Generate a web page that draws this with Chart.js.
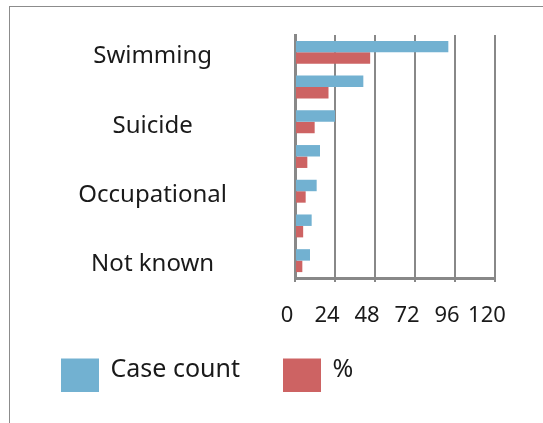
<!DOCTYPE html>
<html><head><meta charset="utf-8">
<script src="https://cdn.jsdelivr.net/npm/chart.js@4"></script>
<style>
html,body{margin:0;padding:0;background:#fff;}
#frame{position:absolute;left:9px;top:6px;width:540px;height:420px;border-top:1px solid #8c8c8c;border-left:1px solid #8c8c8c;}
#wrap{position:absolute;left:0;top:0;width:543px;height:423px;}
</style></head><body>
<div id="frame"></div>
<div id="wrap"><canvas id="c"></canvas></div>
<script>
const categories = ['Swimming', '', 'Suicide', '', 'Occupational', '', 'Not known'];
const caseCount = [92, 41, 24, 15, 13, 10, 9];
const percent = [45.1, 20.1, 11.8, 7.4, 6.4, 4.9, 4.4];
const xMin = 0, xMax = 120, xStep = 24;
const seriesNames = ['Case count', '%'];
const seriesColors = ['#72b1d1', '#cd6363'];

Chart.defaults.font.family = "'Noto Sans', sans-serif";
Chart.defaults.color = '#1a1a1a';

// legend swatch: square sitting slightly below the text line
function swatch(color) {
  const c = document.createElement('canvas');
  c.width = 38; c.height = 54;
  const g = c.getContext('2d');
  g.fillStyle = color;
  g.fillRect(0, 16, 38, 38);
  return c;
}
const swatches = seriesColors.map(swatch);

new Chart(document.getElementById('c'), {
  type: 'bar',
  data: {
    labels: categories,
    datasets: [
      { label: seriesNames[0], data: caseCount, backgroundColor: seriesColors[0], borderWidth: 0,
        categoryPercentage: 0.66, barPercentage: 1 },
      { label: seriesNames[1], data: percent, backgroundColor: seriesColors[1], borderWidth: 0,
        categoryPercentage: 0.66, barPercentage: 1 }
    ]
  },
  options: {
    indexAxis: 'y',
    responsive: true,
    maintainAspectRatio: false,
    animation: false,
    layout: { padding: { left: 18, right: 48, top: 35, bottom: 31 } },
    scales: {
      x: {
        min: xMin, max: xMax,
        ticks: { stepSize: xStep, font: { size: 22 }, color: '#1a1a1a', padding: 21, labelOffset: -8,
                 maxRotation: 0, minRotation: 0, autoSkip: false },
        grid: { color: '#888', lineWidth: 2, tickLength: 4, drawTicks: true },
        border: { display: true, color: '#888', width: 3 },
        afterFit: s => {
          s.height = 35; s.paddingTop = 0; s.paddingBottom = 0;
          s._computeLabelArea = () => undefined;
        }
      },
      y: {
        z: 1,
        grid: { display: false, drawTicks: false, tickLength: 0 },
        border: { display: true, color: '#888', width: 3 },
        ticks: { font: { size: 24 }, color: '#1a1a1a', crossAlign: 'center', padding: 68,
                 autoSkip: false, labelOffset: 4 },
        afterFit: s => { s.width = 277; s.paddingTop = 0; s.paddingBottom = 0; }
      }
    },
    plugins: {
      legend: {
        position: 'bottom',
        align: 'start',
        labels: {
          usePointStyle: true, pointStyleWidth: 36, padding: 44,
          font: { size: 25 }, color: '#1a1a1a',
          generateLabels: chart => Chart.defaults.plugins.legend.labels.generateLabels(chart)
            .map((it, i) => Object.assign(it, { pointStyle: swatches[i] }))
        }
      },
      tooltip: { enabled: false }
    }
  }
});
</script>
</body></html>
